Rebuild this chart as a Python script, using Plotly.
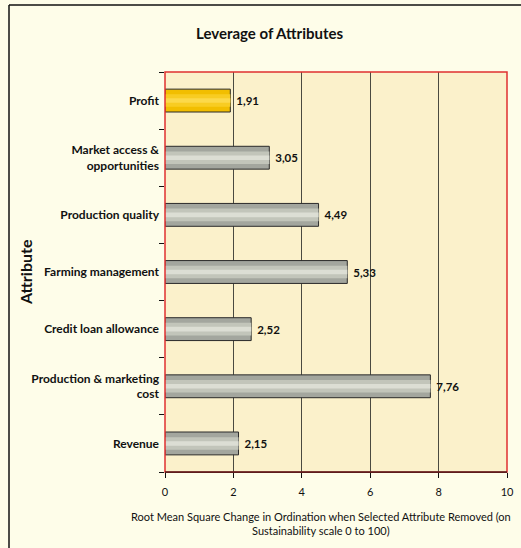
import plotly.graph_objects as go

categories = ["Revenue", "Production & marketing<br>cost", "Credit loan allowance",
              "Farming management", "Production quality",
              "Market access &<br>opportunities", "Profit"]
values = [2.15, 7.76, 2.52, 5.33, 4.49, 3.05, 1.91]
labels = [f" <b>{v:.2f}</b>".replace(".", ",") for v in values]
x_ticks = [0, 2, 4, 6, 8, 10]

outer = ["#F2BE00" if c == "Profit" else "#A3A69E" for c in categories]
mid = ["#F8CC22" if c == "Profit" else "#C2C5BA" for c in categories]
inner = ["#FCD94A" if c == "Profit" else "#DCDED4" for c in categories]

W, H = 521, 548
L, R, T, B = 165, 14, 72, 76
PW, PH = W - L - R, H - T - B

def px(x):
    return (x - L) / PW

def py(y):
    return (H - B - y) / PH

fig = go.Figure()
fig.add_trace(go.Bar(y=categories, x=values, orientation="h", width=0.4,
                     marker=dict(color=outer, line=dict(color="#2A2A2A", width=1)),
                     text=labels, textposition="outside", cliponaxis=False,
                     textfont=dict(family="Lato", size=11.5, color="#111"),
                     hoverinfo="skip"))
fig.add_trace(go.Bar(y=categories, x=values, orientation="h", width=0.22,
                     marker=dict(color=mid, line=dict(width=0)), hoverinfo="skip"))
fig.add_trace(go.Bar(y=categories, x=values, orientation="h", width=0.08,
                     marker=dict(color=inner, line=dict(width=0)), hoverinfo="skip"))

fig.update_layout(
    width=W, height=H,
    barmode="overlay",
    showlegend=False,
    paper_bgcolor="#FEFDE9",
    plot_bgcolor="#FBF1CB",
    margin=dict(l=L, r=R, t=T, b=B, autoexpand=False),
    xaxis=dict(range=[0, 10], tickvals=x_ticks, showgrid=True, gridcolor="#4A4A40",
               gridwidth=1, zeroline=False, showline=True, linecolor="#111", linewidth=1,
               ticks="outside", ticklen=5, tickcolor="#111", automargin=False,
               ticklabelstandoff=5,
               tickfont=dict(family="Lato", size=11, color="#111")),
    yaxis=dict(showgrid=False, zeroline=False, showline=False, automargin=False,
               ticks="outside", ticklen=5, tickcolor="#111", tickson="boundaries",
               ticklabelstandoff=5,
               tickfont=dict(family="Lato", size=12, color="#111", weight="bold")),
    separators=",.",
    annotations=[
        dict(text="<b>Leverage of Attributes</b>", xref="paper", yref="paper",
             x=px(270), y=py(33), xanchor="center", yanchor="middle", showarrow=False,
             font=dict(family="Lato", size=15, color="#111")),
        dict(text="<b>Attribute</b>", xref="paper", yref="paper", textangle=-90,
             x=px(25), y=py(272), xanchor="center", yanchor="middle", showarrow=False,
             font=dict(family="Lato", size=16, color="#111")),
        dict(text="Root Mean Square Change in Ordination when Selected Attribute Removed (on<br>Sustainability scale 0 to 100)",
             xref="paper", yref="paper", x=px(321), y=py(523), xanchor="center",
             yanchor="middle", showarrow=False, align="center",
             font=dict(family="Lato", size=11, color="#111")),
    ],
    shapes=[
        dict(type="rect", xref="paper", yref="paper", x0=0, x1=1, y0=0, y1=1,
             line=dict(color="#E03030", width=1.5), layer="above"),
        dict(type="line", xref="paper", yref="paper", x0=0, x1=1, y0=0, y1=0,
             line=dict(color="#111", width=1), layer="above"),
        dict(type="line", xref="paper", yref="paper", x0=px(9), x1=px(9),
             y0=py(560), y1=py(5), line=dict(color="#111", width=1.5)),
        dict(type="line", xref="paper", yref="paper", x0=px(9), x1=px(530),
             y0=py(5), y1=py(5), line=dict(color="#111", width=1.5)),
    ],
)

fig.write_html("out.html", config={"displayModeBar": False},
               post_script="document.body.style.margin='0';")
